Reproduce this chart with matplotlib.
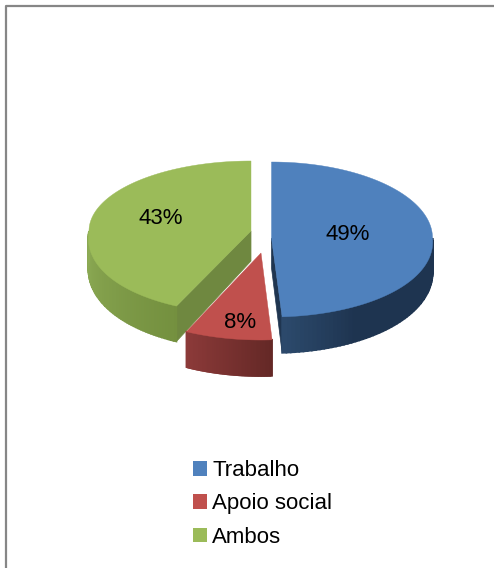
import numpy as np
import matplotlib
matplotlib.use('Agg')
import matplotlib.pyplot as plt
from matplotlib.colors import to_rgb
from matplotlib.patches import Patch

labels = ['Trabalho', 'Apoio social', 'Ambos']
values = [49, 8, 43]
pct_labels = ['49%', '8%', '43%']
colors = ['#4f81bd', '#c0504d', '#9bbb59']

# slice geometry in pixels: cx, cy, rx, kx, ry back, ry front
geom = [(271.5, 238, 161, 0.05, 76, 79),
        (261, 253, 162, 0.09, 87, 87),
        (251, 231, 162, 0.09, 70, 83)]
# side shading, start and end of the sweep
side_cols = [('#2c4a6c', '#1e3450'), ('#642826', '#8c3a39'), ('#74903f', '#8dab55')]
cut_cols = ['#1f3550', '#642826', '#6f8840']
text_pos = [(348, 234), (240, 322), (161, 219)]

plt.rcParams['font.family'] = ['Liberation Sans', 'DejaVu Sans']
FS = 16

fig = plt.figure(figsize=(4.94, 5.68), dpi=100)
ax = fig.add_axes([0, 0, 1, 1])
ax.set_xlim(0, 494)
ax.set_ylim(568, 0)
ax.axis('off')

# chart frame (bottom and right are cut off in the picture)
ax.plot([5.5, 5.5, 494], [568, 6, 6], color='#868686', lw=1.6, solid_capstyle='butt')


def project(t, g):
    cx, cy, rx, kx, ryb, ryf = g
    u, v = np.sin(t), -np.cos(t)
    x = cx + rx * u * (1 + kx * np.maximum(v, 0))
    y = cy + v * np.where(v > 0, ryf, ryb)
    return x, y


def depth(t):
    return 30 + 6 * np.maximum(-np.cos(t), 0)


edges = np.cumsum([0] + values) / sum(values) * 2 * np.pi
order = [2, 0, 1]
for i in order:
    a0, a1 = edges[i], edges[i + 1]
    g = geom[i]
    t = np.linspace(a0, a1, 200)
    x, y = project(t, g)
    # cut face on the way to the apex
    tip = a1 if i == 0 else a0
    if i != 1:
        tx, ty = project(np.array(tip), g)
        d = depth(tip)
        ax.fill([g[0], tx, tx, g[0]], [g[1], ty, ty + d, g[1] + 30], color=cut_cols[i], lw=0.5)
    # outer wall, only where it faces the viewer
    lo, hi = max(a0, np.pi / 2), min(a1, 3 * np.pi / 2)
    ts = np.linspace(lo, hi, 60)
    c0, c1 = np.array(to_rgb(side_cols[i][0])), np.array(to_rgb(side_cols[i][1]))
    for j in range(len(ts) - 1):
        seg = ts[j:j + 2]
        sx, sy = project(seg, g)
        d = depth(seg)
        f = (j + 0.5) / (len(ts) - 1)
        if i == 0:
            f = 1 - max(0, (f - 0.7) / 0.3)  # blue stays dark until near the tip
        col = tuple(c0 + (c1 - c0) * f)
        ax.fill([sx[0], sx[1], sx[1], sx[0]], [sy[0], sy[1], sy[1] + d[1], sy[0] + d[0]],
                color=col, lw=1.2)
    ax.fill(np.r_[g[0], x], np.r_[g[1], y], color=colors[i], lw=0.3)
    ax.text(text_pos[i][0], text_pos[i][1], pct_labels[i], fontsize=FS,
            ha='center', va='center', color='black')

handles = [Patch(facecolor=c, edgecolor='none') for c in colors]
ax.legend(handles, labels, loc='center left', bbox_to_anchor=(189 / 494, 1 - 504 / 568),
          frameon=False, fontsize=FS, handlelength=0.63, handleheight=0.63,
          handletextpad=0.22, labelspacing=0.55, borderpad=0, borderaxespad=0.2)

fig.savefig('out.png', dpi=100)
